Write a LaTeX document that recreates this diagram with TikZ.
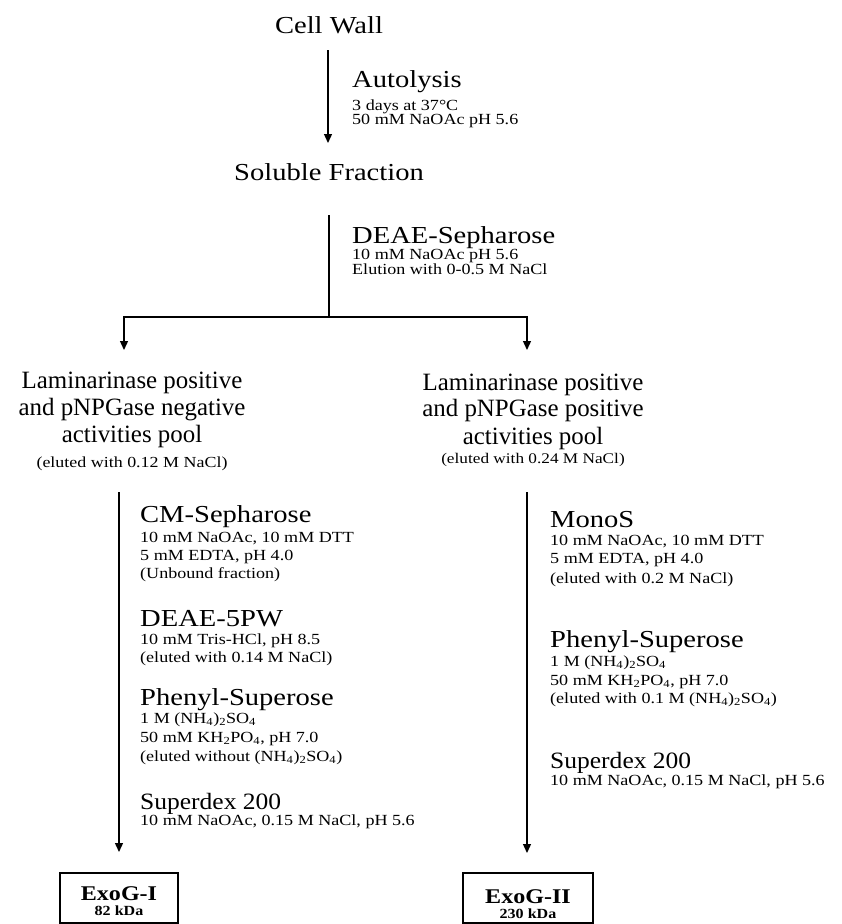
\documentclass[tikz,border=0pt]{standalone}
\usepackage{fontspec}
\setmainfont{Liberation Serif}
\newfontfamily\wfont[FakeStretch=1.17]{Liberation Serif}
\newfontfamily\sdfont[FakeStretch=1.09]{Liberation Serif}
\newfontfamily\bxfont[FakeStretch=1.15]{Liberation Serif}
\usetikzlibrary{arrows.meta}
\begin{document}
\begin{tikzpicture}[x=1bp,y=-1bp,
  hdw/.style={font=\wfont\fontsize{24.5}{27}\selectfont, inner sep=0pt, anchor=base west},
  hdc/.style={font=\wfont\fontsize{24.5}{27}\selectfont, inner sep=0pt, anchor=base},
  sdx/.style={font=\sdfont\fontsize{23.5}{26}\selectfont, inner sep=0pt, anchor=base west},
  sm/.style={font=\wfont\fontsize{15.5}{17}\selectfont, inner sep=0pt, anchor=base west},
  pool/.style={font=\fontsize{25}{27}\selectfont, inner sep=0pt, anchor=base},
  poolsm/.style={font=\wfont\fontsize{15.4}{17}\selectfont, inner sep=0pt, anchor=base},
  bxt/.style={font=\bxfont\bfseries\fontsize{21}{23}\selectfont, inner sep=0pt, anchor=base},
  bxs/.style={font=\bxfont\bfseries\fontsize{14}{16}\selectfont, inner sep=0pt, anchor=base},
  box/.style={draw, line width=2.2bp, inner sep=0pt, minimum height=50bp},
  ln/.style={line width=1.3bp},
  arr/.style={line width=1.3bp, -{Triangle[length=9bp,width=8bp]}}]
\fill[white] (0,0) rectangle (842,924);
\useasboundingbox (0,0) rectangle (842,924);

% top part
\node[hdc] (cw) at (329,33) {Cell Wall};
\node[hdw] (aut) at (352,87) {Autolysis};
\node[sm] (aut1) at (352,110) {3 days at 37°C};
\node[sm] (aut2) at (352,124) {50 mM NaOAc pH 5.6};
\node[hdc] (sf) at (329,180) {Soluble Fraction};
\node[hdw] (deae) at (352,243) {DEAE-Sepharose};
\node[sm] (deae1) at (352,259) {10 mM NaOAc pH 5.6};
\node[sm] (deae2) at (352,274) {Elution with 0-0.5 M NaCl};

% pools
\node[pool] (lp1) at (132,388) {Laminarinase positive};
\node[pool] (lp2) at (132,415) {and pNPGase negative};
\node[pool] (lp3) at (132,442) {activities pool};
\node[poolsm] (lp4) at (132,467) {(eluted with 0.12 M NaCl)};
\node[pool] (rp1) at (533,390) {Laminarinase positive};
\node[pool] (rp2) at (533,416) {and pNPGase positive};
\node[pool] (rp3) at (533,444) {activities pool};
\node[poolsm, font=\wfont\fontsize{14.8}{17}\selectfont] (rp4) at (533,463) {(eluted with 0.24 M NaCl)};

% left column steps
\node[hdw] (cm) at (140,522) {CM-Sepharose};
\node[sm] (cm1) at (140,542) {10 mM NaOAc, 10 mM DTT};
\node[sm] (cm2) at (140,560) {5 mM EDTA, pH 4.0};
\node[sm] (cm3) at (140,578) {(Unbound fraction)};
\node[hdw] (d5) at (140,626) {DEAE-5PW};
\node[sm] (d51) at (140,644) {10 mM Tris-HCl, pH 8.5};
\node[sm] (d52) at (140,662) {(eluted with 0.14 M NaCl)};
\node[hdw] (lph) at (140,705) {Phenyl-Superose};
\node[sm] (lph1) at (140,723) {1 M (NH\textsubscript{4})\textsubscript{2}SO\textsubscript{4}};
\node[sm] (lph2) at (140,742) {50 mM KH\textsubscript{2}PO\textsubscript{4}, pH 7.0};
\node[sm] (lph3) at (140,761) {(eluted without (NH\textsubscript{4})\textsubscript{2}SO\textsubscript{4})};
\node[sdx] (lsd) at (140,809) {Superdex 200};
\node[sm] (lsd1) at (140,825) {10 mM NaOAc, 0.15 M NaCl, pH 5.6};

% right column steps
\node[hdw] (ms) at (550,527) {MonoS};
\node[sm] (ms1) at (550,545) {10 mM NaOAc, 10 mM DTT};
\node[sm] (ms2) at (550,563) {5 mM EDTA, pH 4.0};
\node[sm] (ms3) at (550,583) {(eluted with 0.2 M NaCl)};
\node[hdw] (rph) at (550,647) {Phenyl-Superose};
\node[sm] (rph1) at (550,666) {1 M (NH\textsubscript{4})\textsubscript{2}SO\textsubscript{4}};
\node[sm] (rph2) at (550,685) {50 mM KH\textsubscript{2}PO\textsubscript{4}, pH 7.0};
\node[sm] (rph3) at (550,703) {(eluted with 0.1 M (NH\textsubscript{4})\textsubscript{2}SO\textsubscript{4})};
\node[sdx] (rsd) at (550,768) {Superdex 200};
\node[sm] (rsd1) at (550,785) {10 mM NaOAc, 0.15 M NaCl, pH 5.6};

% result boxes
\node[box, minimum width=118bp] (exo1) at (119,898) {};
\node[bxt] (exo1t) at (119,900) {ExoG-I};
\node[bxs] (exo1k) at (119,915) {82 kDa};
\node[box, minimum width=130bp] (exo2) at (528,898) {};
\node[bxt] (exo2t) at (528,903) {ExoG-II};
\node[bxs] (exo2k) at (528,918) {230 kDa};

% connectors
\coordinate (c1) at (328,50);
\coordinate (c2) at (328,143);
\coordinate (d1) at (329,215);
\coordinate (br) at (329,317);
\coordinate (lt) at (124,350);
\coordinate (rt) at (527,350);
\coordinate (l1) at (119,492);
\coordinate (l2) at (119,852);
\coordinate (r1) at (527,492);
\coordinate (r2) at (527,853);
\draw[arr] (c1) -- (c2);
\draw[ln] (d1) -- (br);
\draw[arr] (br) -| (lt);
\draw[arr] (br) -| (rt);
\draw[arr] (l1) -- (l2);
\draw[arr] (r1) -- (r2);
\end{tikzpicture}
\end{document}
